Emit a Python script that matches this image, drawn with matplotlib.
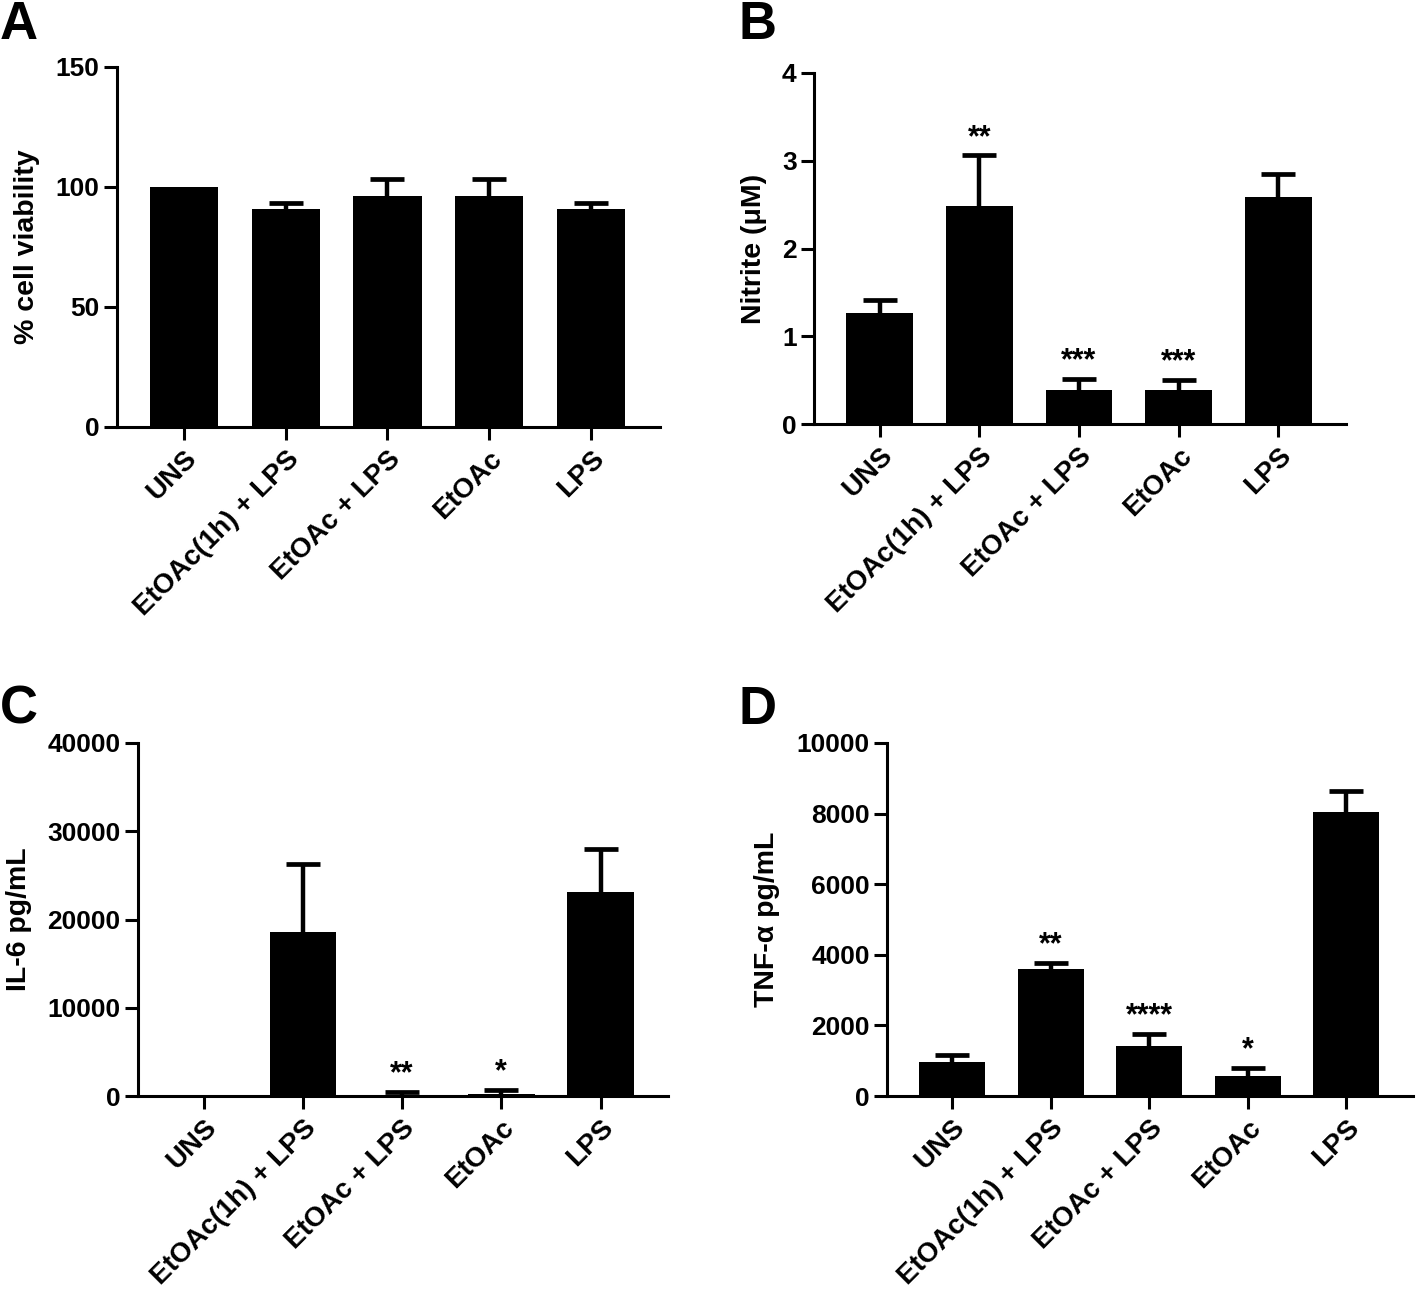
import matplotlib.pyplot as plt
import numpy as np

plt.rcParams['font.family'] = ['Liberation Sans', 'DejaVu Sans']
plt.rcParams['font.weight'] = 'bold'

groups = ['UNS', 'EtOAc(1h) + LPS', 'EtOAc + LPS', 'EtOAc', 'LPS']

# A - viability
viab = [100, 90.9, 96.4, 96.4, 90.9]
viab_err = [0, 2.6, 6.8, 6.8, 2.6]
# B - nitrite
nitrite = [1.26, 2.49, 0.385, 0.385, 2.59]
nitrite_err = [0.155, 0.57, 0.125, 0.115, 0.26]
nitrite_sig = ['', '**', '***', '***', '']
# C - IL-6
il6 = [10, 18600, 120, 250, 23100]
il6_err = [0, 7740, 330, 420, 4900]
il6_sig = ['', '', '**', '*', '']
# D - TNF-a
tnf = [954, 3610, 1418, 577, 8052]
tnf_err = [209, 170, 340, 208, 578]
tnf_sig = ['', '**', '****', '*', '']

W, H = 1417, 1289
fig = plt.figure(figsize=(W / 100, H / 100), dpi=100)


def pbox(l, r, t, b):
    return [l / W, 1 - b / H, (r - l) / W, (b - t) / H]


def panel(box, vals, errs, ymax, yticks, ylabel, labx, sig=None):
    ax = fig.add_axes(box)
    x = np.arange(len(groups))
    # only upper error bars, skip the ones with no error
    keep = [i for i, e in enumerate(errs) if e > 0]
    ev = [vals[i] for i in keep]
    ee = [errs[i] for i in keep]
    eb = ax.errorbar(keep, ev, yerr=[[0] * len(ee), ee], fmt='none',
                     ecolor='black', elinewidth=3.2, capsize=12, capthick=3.4, zorder=1)
    eb[1][0].set_visible(False)  # no lower cap
    ax.bar(x, vals, width=0.67, color='black', zorder=2)
    ax.set_xlim(-0.66, 4.68)
    ax.set_ylim(0, ymax)
    ax.set_yticks(yticks)
    ax.set_xticks(x)
    ax.set_xticklabels(groups, rotation=45, ha='right', va='top',
                       rotation_mode='anchor', fontsize=20, fontweight='bold')
    for t in ax.get_yticklabels():
        t.set_fontsize(19)
        t.set_fontweight('bold')
    ax.tick_params(width=2.2, length=9.5, pad=3)
    ax.tick_params(axis='x', pad=4)
    for s in ['top', 'right']:
        ax.spines[s].set_visible(False)
    for s in ['left', 'bottom']:
        ax.spines[s].set_linewidth(2.2)
    ax.spines['bottom'].set_zorder(3)
    ax.set_ylabel(ylabel, fontsize=20.5, fontweight='bold')
    ax.yaxis.set_label_coords(labx, 0.5)
    if sig:
        for i, s in enumerate(sig):
            if s:
                ax.text(i, vals[i] + errs[i] + 0.05 * ymax, s, ha='center',
                        va='center', fontsize=22, fontweight='bold')
    return ax


panel(pbox(117, 660, 67, 427), viab, viab_err, 150, [0, 50, 100, 150],
      '% cell viability', -0.142)
panel(pbox(814, 1346, 73, 424), nitrite, nitrite_err, 4, [0, 1, 2, 3, 4],
      'Nitrite (\u03bcM)', -0.088, nitrite_sig)
panel(pbox(138, 668, 743, 1096), il6, il6_err, 40000,
      [0, 10000, 20000, 30000, 40000], 'IL-6 pg/mL', -0.2, il6_sig)
panel(pbox(887, 1413, 743, 1096), tnf, tnf_err, 10000,
      [0, 2000, 4000, 6000, 8000, 10000], 'TNF-\u03b1 pg/mL', -0.203, tnf_sig)

for lab, px, py in [('A', 0, 0), ('B', 738, 0), ('C', 0, 685), ('D', 738, 685)]:
    fig.text(px / W, 1 - py / H, lab, fontsize=38, fontweight='bold',
             ha='left', va='top')

fig.savefig('out.png', dpi=100)
